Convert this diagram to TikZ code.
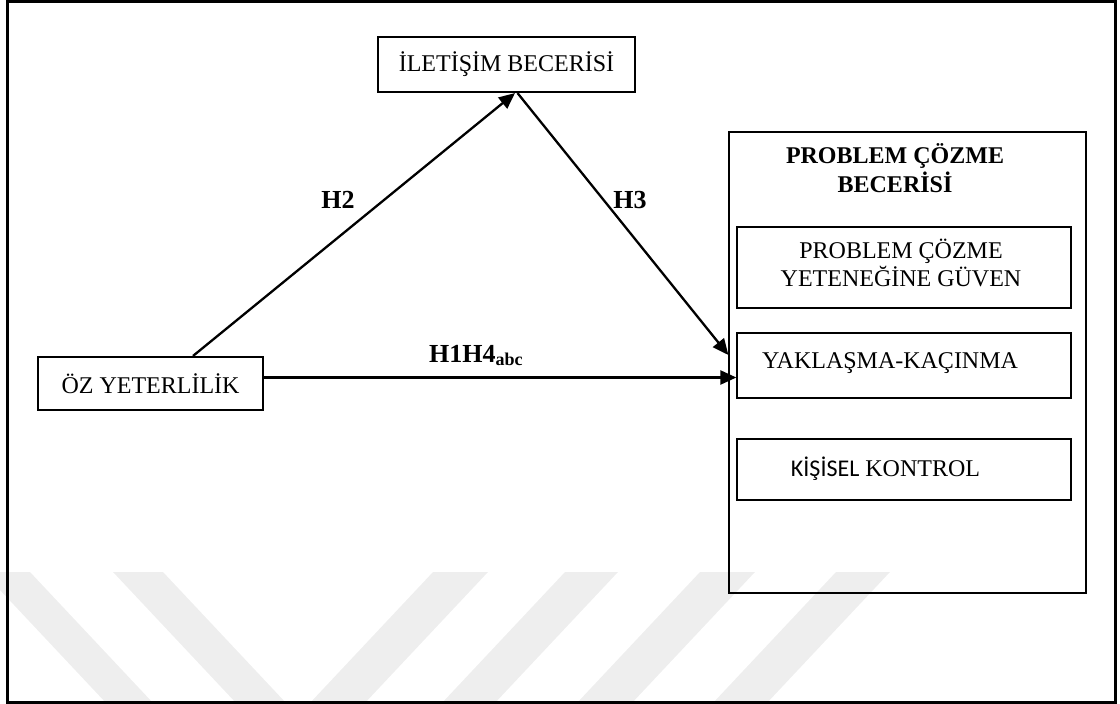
\documentclass[tikz,border=0pt]{standalone}
\usepackage{fontspec}
\setmainfont{Liberation Serif}
\newfontfamily\carl{Carlito}
\usetikzlibrary{arrows.meta,calc}
\definecolor{wm}{RGB}{238,238,238}
\begin{document}
\begin{tikzpicture}[x=1pt,y=-1pt,
  bx/.style={draw, line width=2.1pt, inner sep=0pt, font=\fontsize{24}{28}\selectfont},
  thinbox/.style={draw, line width=1.2pt, inner sep=0pt},
  txt/.style={inner sep=0pt, font=\fontsize{24}{28}\selectfont, align=center},
  arr/.style={line width=2.3pt, -{Triangle[length=16pt,width=14pt]}},
  hl/.style={inner sep=0pt, font=\fontsize{26}{28}\selectfont\bfseries}]
\useasboundingbox (0,0) rectangle (1120,704);
% watermark stripes
\begin{scope}
\clip (0,0) rectangle (1120,704);
\fill[wm] (-17,572) -- (30,572) -- (154,704) -- (107,704) -- cycle;
\fill[wm] (113,572) -- (163,572) -- (287,704) -- (237,704) -- cycle;
\fill[wm] (433,572) -- (488,572) -- (364,704) -- (309,704) -- cycle;
\fill[wm] (565,572) -- (618,572) -- (494,704) -- (441,704) -- cycle;
\fill[wm] (700,572) -- (755,572) -- (631,704) -- (576,704) -- cycle;
\fill[wm] (836,572) -- (890,572) -- (766,704) -- (712,704) -- cycle;
\end{scope}
% outer frame
\node[draw, line width=3pt, inner sep=0pt, minimum width=1108pt, minimum height=701pt] (frame) at (561,352) {};
% nodes
\node[bx, minimum width=257pt, minimum height=55pt] (il) at (506.5,64.5) {İLETİŞİM BECERİSİ};
\node[bx, minimum width=225pt, minimum height=53pt] (oz) at (150.5,383.5) {ÖZ YETERLİLİK};
\node[thinbox, minimum width=357pt, minimum height=461pt] (pc) at (907.5,362.5) {};
\node[txt, font=\fontsize{24}{29}\selectfont\bfseries] (pct) at (895,168) {PROBLEM ÇÖZME\\BECERİSİ};
\node[thinbox, minimum width=334pt, minimum height=81pt] (gv) at (904,267.5) {};
\node[txt] (gvt) at (901,262.5) {PROBLEM ÇÖZME\\YETENEĞİNE GÜVEN};
\node[thinbox, minimum width=334pt, minimum height=65pt] (yk) at (904,365.5) {};
\node[txt, anchor=base] (ykt) at (890,368) {YAKLAŞMA-KAÇINMA};
\node[thinbox, minimum width=334pt, minimum height=61pt] (ks) at (904,469.5) {};
\node[txt, anchor=base] (kst) at (885.5,476) {{\carl KİŞİSEL} KONTROL};
% connectors
\draw[arr] ([xshift=42.5pt]oz.north) -- ([xshift=8.5pt]il.south);
\draw[arr] ([xshift=11pt]il.south) -- ([yshift=7.5pt]pc.west);
\draw[arr] ([yshift=6pt]oz.east) -- ([yshift=6pt]oz.east -| yk.west);
% labels
\node[hl, anchor=base] (h2) at (338,208) {H2};
\node[hl, anchor=base] (h3) at (630,208) {H3};
\node[hl, anchor=base west] (h14) at (429,362) {H1H4\raisebox{-3pt}{\fontsize{18}{20}\selectfont abc}};
\end{tikzpicture}
\end{document}
